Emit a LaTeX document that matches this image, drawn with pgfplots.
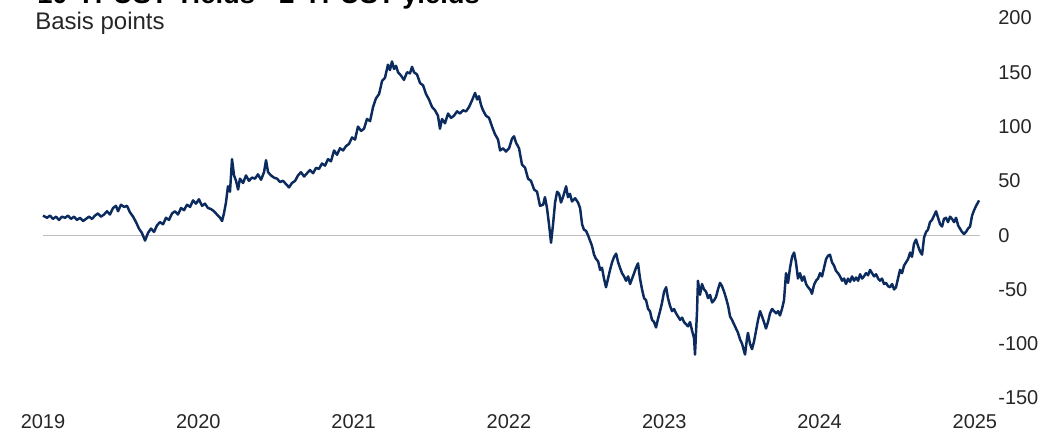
\documentclass[border=0pt]{standalone}
\usepackage{fontspec}
\setmainfont{Liberation Sans}
\usepackage{pgfplots}
\pgfplotsset{compat=1.18}
\definecolor{navy}{HTML}{0B2A5E}
\definecolor{zerogray}{HTML}{BFBFBF}
\definecolor{txt}{HTML}{262626}
\begin{document}
\begin{tikzpicture}
\useasboundingbox (-32.25pt,-25.5pt) rectangle (762.75pt,298.5pt);
\clip (-32.25pt,-25.5pt) rectangle (762.75pt,298.5pt);
\begin{axis}[
  at={(0,0)}, anchor=south west,
  scale only axis,
  width=702.4pt, height=285pt,
  xmin=2019, xmax=2025.03,
  ymin=-150, ymax=200,
  axis line style={draw=none},
  major tick length=0pt,
  xtick={2019,2020,2021,2022,2023,2024,2025},
  xticklabels={2019,2020,2021,2022,2023,2024,2025},
  ytick={-150,-100,-50,0,50,100,150,200},
  yticklabels={-150,-100,-50,0,50,100,150,200},
  yticklabel pos=right,
  xticklabel style={anchor=north, inner sep=0pt, yshift=-12pt, font=\fontsize{15}{18}\selectfont, text=txt},
  yticklabel style={anchor=west, inner sep=0pt, xshift=13.9pt, font=\fontsize{15}{18}\selectfont, text=txt},
  clip=false,
]
\addplot[zerogray, line width=0.8pt] coordinates {(2019,0) (2025.03,0)};
\addplot[navy, line width=1.85pt, line join=round] coordinates {
(2019.000,18) (2019.026,16) (2019.045,18) (2019.064,15) (2019.084,17) (2019.103,14) (2019.122,17) (2019.142,16)
(2019.161,18) (2019.180,15) (2019.200,17) (2019.219,14) (2019.238,16) (2019.258,13) (2019.277,15) (2019.296,17)
(2019.316,15) (2019.335,18) (2019.354,20) (2019.373,17) (2019.393,19) (2019.412,22) (2019.431,19) (2019.451,25)
(2019.470,27) (2019.483,22) (2019.502,28) (2019.522,26) (2019.541,27) (2019.560,21) (2019.580,17) (2019.599,12)
(2019.618,6) (2019.637,2) (2019.657,-5) (2019.676,2) (2019.695,6) (2019.715,3) (2019.734,9) (2019.753,12)
(2019.773,10) (2019.792,16) (2019.811,14) (2019.831,20) (2019.850,22) (2019.869,19) (2019.889,25) (2019.908,23)
(2019.927,28) (2019.947,26) (2019.966,32) (2019.985,29) (2020.004,33) (2020.024,27) (2020.043,29) (2020.062,25)
(2020.082,24) (2020.101,22) (2020.120,19) (2020.140,16) (2020.153,13) (2020.165,20) (2020.178,30) (2020.191,45)
(2020.204,40) (2020.217,70) (2020.230,55) (2020.243,50) (2020.256,42) (2020.268,52) (2020.288,48) (2020.307,55)
(2020.326,50) (2020.346,53) (2020.365,52) (2020.384,56) (2020.404,51) (2020.423,58) (2020.436,69) (2020.449,58)
(2020.468,55) (2020.487,53) (2020.507,52) (2020.526,49) (2020.545,50) (2020.565,47) (2020.584,44) (2020.603,48)
(2020.623,50) (2020.642,55) (2020.661,58) (2020.681,54) (2020.700,57) (2020.719,60) (2020.739,57) (2020.758,62)
(2020.777,61) (2020.796,66) (2020.816,64) (2020.835,70) (2020.854,68) (2020.874,78) (2020.893,74) (2020.912,80)
(2020.932,78) (2020.951,82) (2020.970,84) (2020.990,90) (2021.009,88) (2021.028,100) (2021.048,96) (2021.067,98)
(2021.086,107) (2021.106,105) (2021.125,118) (2021.144,126) (2021.164,130) (2021.183,142) (2021.202,145) (2021.221,157)
(2021.234,152) (2021.247,160) (2021.260,153) (2021.273,156) (2021.286,150) (2021.305,147) (2021.324,143) (2021.344,150)
(2021.363,149) (2021.376,155) (2021.389,150) (2021.408,148) (2021.428,140) (2021.447,138) (2021.466,130) (2021.485,125)
(2021.505,118) (2021.524,115) (2021.543,110) (2021.556,98) (2021.569,107) (2021.588,103) (2021.608,112) (2021.627,108)
(2021.646,110) (2021.666,114) (2021.685,112) (2021.704,115) (2021.724,114) (2021.743,118) (2021.762,124) (2021.782,131)
(2021.795,125) (2021.807,128) (2021.820,120) (2021.833,115) (2021.852,110) (2021.872,108) (2021.891,100) (2021.910,93)
(2021.930,88) (2021.943,78) (2021.962,80) (2021.981,77) (2022.001,80) (2022.020,89) (2022.033,91) (2022.046,85)
(2022.065,80) (2022.084,65) (2022.104,62) (2022.123,52) (2022.142,50) (2022.162,42) (2022.181,40) (2022.200,27)
(2022.220,28) (2022.232,35) (2022.245,25) (2022.258,10) (2022.271,-7) (2022.284,10) (2022.297,30) (2022.310,40)
(2022.323,38) (2022.335,30) (2022.348,35) (2022.368,45) (2022.380,35) (2022.393,38) (2022.406,31) (2022.426,34)
(2022.445,30) (2022.458,25) (2022.471,10) (2022.483,5) (2022.496,4) (2022.509,0) (2022.522,-5) (2022.535,-10)
(2022.548,-18) (2022.561,-22) (2022.574,-24) (2022.587,-32) (2022.599,-30) (2022.612,-40) (2022.625,-48) (2022.638,-40)
(2022.651,-32) (2022.664,-25) (2022.677,-20) (2022.690,-17) (2022.703,-25) (2022.715,-30) (2022.728,-35) (2022.741,-38)
(2022.754,-42) (2022.767,-38) (2022.780,-45) (2022.793,-40) (2022.806,-35) (2022.818,-30) (2022.831,-26) (2022.844,-40)
(2022.857,-50) (2022.870,-58) (2022.883,-60) (2022.896,-68) (2022.908,-70) (2022.921,-78) (2022.934,-80) (2022.947,-85)
(2022.960,-77) (2022.973,-70) (2022.986,-62) (2022.999,-52) (2023.012,-48) (2023.024,-58) (2023.037,-65) (2023.050,-70)
(2023.063,-68) (2023.076,-72) (2023.089,-75) (2023.102,-78) (2023.115,-76) (2023.127,-80) (2023.140,-82) (2023.153,-84)
(2023.166,-80) (2023.179,-88) (2023.192,-95) (2023.198,-110) (2023.211,-70) (2023.217,-42) (2023.230,-55) (2023.243,-45)
(2023.256,-50) (2023.269,-52) (2023.282,-58) (2023.295,-55) (2023.308,-62) (2023.321,-60) (2023.333,-57) (2023.346,-50)
(2023.359,-44) (2023.372,-47) (2023.385,-52) (2023.398,-58) (2023.411,-65) (2023.424,-75) (2023.436,-78) (2023.449,-82)
(2023.462,-86) (2023.475,-90) (2023.488,-96) (2023.501,-100) (2023.514,-107) (2023.520,-110) (2023.533,-95) (2023.539,-90)
(2023.552,-100) (2023.565,-105) (2023.578,-98) (2023.591,-88) (2023.604,-78) (2023.617,-70) (2023.630,-75) (2023.642,-80)
(2023.655,-86) (2023.668,-80) (2023.681,-72) (2023.694,-68) (2023.707,-70) (2023.720,-72) (2023.733,-70) (2023.745,-74)
(2023.758,-68) (2023.771,-60) (2023.784,-35) (2023.797,-44) (2023.810,-30) (2023.823,-20) (2023.836,-16) (2023.848,-25)
(2023.861,-40) (2023.874,-35) (2023.887,-42) (2023.900,-38) (2023.913,-45) (2023.926,-48) (2023.939,-50) (2023.951,-54)
(2023.964,-46) (2023.977,-42) (2023.990,-40) (2024.003,-35) (2024.016,-38) (2024.029,-30) (2024.042,-22) (2024.054,-19)
(2024.067,-18) (2024.080,-25) (2024.093,-28) (2024.106,-33) (2024.119,-35) (2024.132,-38) (2024.145,-42) (2024.158,-40)
(2024.170,-45) (2024.183,-40) (2024.196,-43) (2024.209,-38) (2024.222,-42) (2024.235,-39) (2024.248,-42) (2024.261,-36)
(2024.274,-40) (2024.286,-38) (2024.299,-35) (2024.312,-37) (2024.325,-32) (2024.338,-35) (2024.351,-38) (2024.364,-36)
(2024.377,-40) (2024.389,-42) (2024.402,-40) (2024.415,-45) (2024.428,-44) (2024.441,-47) (2024.454,-48) (2024.467,-45)
(2024.480,-50) (2024.492,-48) (2024.505,-40) (2024.518,-32) (2024.531,-35) (2024.544,-28) (2024.557,-25) (2024.570,-22)
(2024.583,-16) (2024.595,-20) (2024.608,-8) (2024.621,-4) (2024.634,-10) (2024.647,-15) (2024.660,-18) (2024.673,-2)
(2024.686,3) (2024.698,5) (2024.711,12) (2024.724,14) (2024.737,18) (2024.750,22) (2024.763,16) (2024.776,10)
(2024.789,8) (2024.801,15) (2024.814,16) (2024.827,12) (2024.840,17) (2024.853,15) (2024.866,12) (2024.879,16)
(2024.892,9) (2024.904,6) (2024.917,3) (2024.930,1) (2024.943,3) (2024.956,6) (2024.969,8) (2024.982,18)
(2024.995,23) (2025.008,27) (2025.027,32)
};
\end{axis}
\node[anchor=base west, inner sep=0pt, font=\fontsize{20.5}{24}\selectfont\bfseries, text=black] at (-4.5pt,295.5pt) {10-Yr UST Yields - 2-Yr UST yields};
\node[anchor=base west, inner sep=0pt, font=\fontsize{18}{22}\selectfont, text=txt] at (-6pt,276pt) {Basis points};
\end{tikzpicture}
\end{document}
